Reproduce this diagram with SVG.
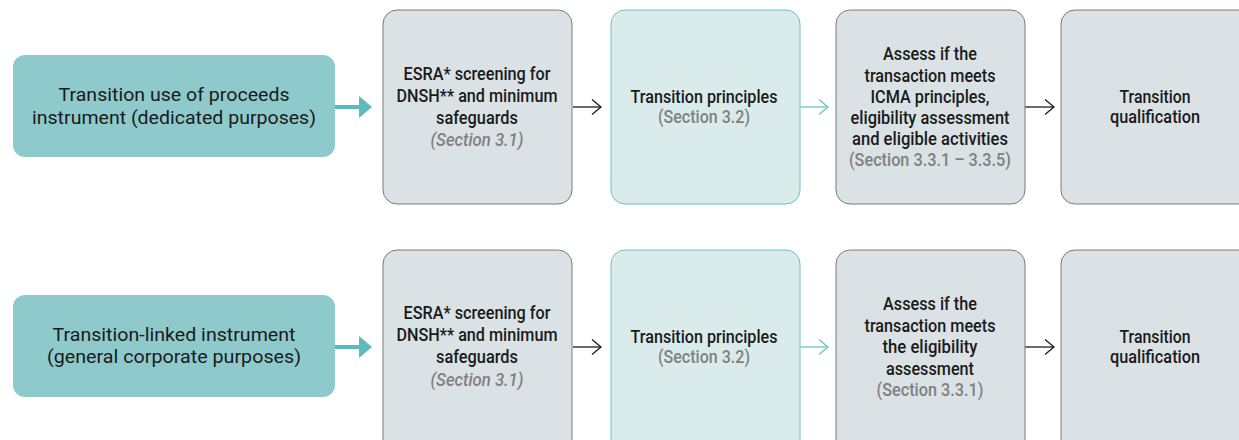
<svg xmlns="http://www.w3.org/2000/svg" width="1239" height="440" viewBox="0 0 1239 440">
<defs>
<style>
.src{fill:#8ecacb;}
.grey{fill:#dbe2e5;stroke:#7a7a7a;stroke-width:1;}
.teal{fill:#daebeb;stroke:#6cc3c4;stroke-width:1;}
text{font-family:Roboto,"Liberation Sans",sans-serif;text-anchor:middle;fill:#1a1a1a;}
.t1{font-size:18px;font-weight:400;}
.t2{font-size:17.5px;font-weight:500;}
.sec{fill:#808080;font-weight:500;font-size:17.5px;}
.it{font-style:italic;}
.ln{fill:none;stroke-width:1.3;}
</style>
<marker id="mb" markerWidth="12" markerHeight="16" refX="10" refY="8" orient="auto" markerUnits="userSpaceOnUse">
<path d="M1,0.5 L10,8 L1,15.5" fill="none" stroke="#1a1a1a" stroke-width="1.3"/>
</marker>
<marker id="mt" markerWidth="12" markerHeight="16" refX="10" refY="8" orient="auto" markerUnits="userSpaceOnUse">
<path d="M1,0.5 L10,8 L1,15.5" fill="none" stroke="#6cc3c4" stroke-width="1.3"/>
</marker>
</defs>
<rect width="1239" height="440" fill="#ffffff"/>

<g id="connectors">
<line x1="335" y1="107" x2="361" y2="107" stroke="#5bbcbf" stroke-width="4"/>
<polygon points="359,96 372,107 359,118" fill="#5bbcbf"/>
<line class="ln" x1="573" y1="107" x2="601" y2="107" stroke="#1a1a1a" marker-end="url(#mb)"/>
<line class="ln" x1="800" y1="107" x2="828" y2="107" stroke="#6cc3c4" marker-end="url(#mt)"/>
<line class="ln" x1="1025" y1="107" x2="1054" y2="107" stroke="#1a1a1a" marker-end="url(#mb)"/>

<line x1="335" y1="347" x2="361" y2="347" stroke="#5bbcbf" stroke-width="4"/>
<polygon points="359,336 372,347 359,358" fill="#5bbcbf"/>
<line class="ln" x1="573" y1="347" x2="601" y2="347" stroke="#1a1a1a" marker-end="url(#mb)"/>
<line class="ln" x1="800" y1="347" x2="828" y2="347" stroke="#6cc3c4" marker-end="url(#mt)"/>
<line class="ln" x1="1025" y1="347" x2="1054" y2="347" stroke="#1a1a1a" marker-end="url(#mb)"/>
</g>

<g id="row1-source">
<rect class="src" x="13" y="55" width="322" height="102" rx="12"/>
<text class="t1" x="174" y="101" textLength="231" lengthAdjust="spacingAndGlyphs">Transition use of proceeds</text>
<text class="t1" x="174" y="124" textLength="284" lengthAdjust="spacingAndGlyphs">instrument (dedicated purposes)</text>
</g>
<g id="row1-esra">
<rect class="grey" x="383" y="10" width="189" height="194" rx="14"/>
<text class="t2" x="477" y="80" textLength="147" lengthAdjust="spacingAndGlyphs">ESRA* screening for</text>
<text class="t2" x="477" y="102" textLength="161" lengthAdjust="spacingAndGlyphs">DNSH** and minimum</text>
<text class="t2" x="477" y="124" textLength="82" lengthAdjust="spacingAndGlyphs">safeguards</text>
<text class="sec it" x="477" y="146" textLength="93" lengthAdjust="spacingAndGlyphs">(Section 3.1)</text>
</g>
<g id="row1-principles">
<rect class="teal" x="611" y="10" width="189" height="194" rx="14"/>
<text class="t2" x="704" y="103" textLength="147" lengthAdjust="spacingAndGlyphs">Transition principles</text>
<text class="sec" x="704" y="123" textLength="92" lengthAdjust="spacingAndGlyphs">(Section 3.2)</text>
</g>
<g id="row1-assess">
<rect class="grey" x="836" y="10" width="189" height="194" rx="14"/>
<text class="t2" x="930" y="60" textLength="94" lengthAdjust="spacingAndGlyphs">Assess if the</text>
<text class="t2" x="930" y="82" textLength="131" lengthAdjust="spacingAndGlyphs">transaction meets</text>
<text class="t2" x="930" y="103" textLength="119" lengthAdjust="spacingAndGlyphs">ICMA principles,</text>
<text class="t2" x="930" y="124" textLength="159" lengthAdjust="spacingAndGlyphs">eligibility assessment</text>
<text class="t2" x="930" y="145" textLength="156" lengthAdjust="spacingAndGlyphs">and eligible activities</text>
<text class="sec" x="930" y="166" textLength="162" lengthAdjust="spacingAndGlyphs">(Section 3.3.1 – 3.3.5)</text>
</g>
<g id="row1-qualification">
<rect class="grey" x="1061" y="10" width="200" height="194" rx="14"/>
<text class="t2" x="1155" y="103" textLength="71" lengthAdjust="spacingAndGlyphs">Transition</text>
<text class="t2" x="1155" y="123" textLength="90" lengthAdjust="spacingAndGlyphs">qualification</text>
</g>

<g id="row2-source">
<rect class="src" x="13" y="295" width="322" height="102" rx="12"/>
<text class="t1" x="174" y="341" textLength="243" lengthAdjust="spacingAndGlyphs">Transition-linked instrument</text>
<text class="t1" x="174" y="363" textLength="254" lengthAdjust="spacingAndGlyphs">(general corporate purposes)</text>
</g>
<g id="row2-esra">
<rect class="grey" x="383" y="250" width="189" height="210" rx="14"/>
<text class="t2" x="477" y="319" textLength="147" lengthAdjust="spacingAndGlyphs">ESRA* screening for</text>
<text class="t2" x="477" y="341" textLength="161" lengthAdjust="spacingAndGlyphs">DNSH** and minimum</text>
<text class="t2" x="477" y="363" textLength="82" lengthAdjust="spacingAndGlyphs">safeguards</text>
<text class="sec it" x="477" y="386" textLength="93" lengthAdjust="spacingAndGlyphs">(Section 3.1)</text>
</g>
<g id="row2-principles">
<rect class="teal" x="611" y="250" width="189" height="210" rx="14"/>
<text class="t2" x="704" y="343" textLength="147" lengthAdjust="spacingAndGlyphs">Transition principles</text>
<text class="sec" x="704" y="363" textLength="92" lengthAdjust="spacingAndGlyphs">(Section 3.2)</text>
</g>
<g id="row2-assess">
<rect class="grey" x="836" y="250" width="189" height="210" rx="14"/>
<text class="t2" x="930" y="310" textLength="94" lengthAdjust="spacingAndGlyphs">Assess if the</text>
<text class="t2" x="930" y="332" textLength="131" lengthAdjust="spacingAndGlyphs">transaction meets</text>
<text class="t2" x="930" y="353" textLength="95" lengthAdjust="spacingAndGlyphs">the eligibility</text>
<text class="t2" x="930" y="375" textLength="88" lengthAdjust="spacingAndGlyphs">assessment</text>
<text class="sec" x="930" y="396" textLength="107" lengthAdjust="spacingAndGlyphs">(Section 3.3.1)</text>
</g>
<g id="row2-qualification">
<rect class="grey" x="1061" y="250" width="200" height="210" rx="14"/>
<text class="t2" x="1155" y="343" textLength="71" lengthAdjust="spacingAndGlyphs">Transition</text>
<text class="t2" x="1155" y="363" textLength="90" lengthAdjust="spacingAndGlyphs">qualification</text>
</g>
</svg>
